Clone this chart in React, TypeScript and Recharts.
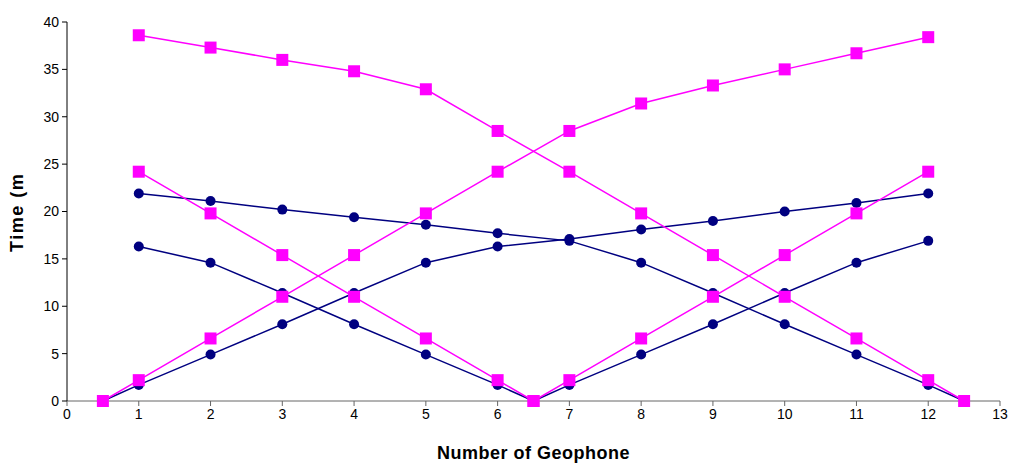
import React from "react";
import { LineChart, Line, XAxis, YAxis, Label } from "recharts";

const xTicks = [0, 1, 2, 3, 4, 5, 6, 7, 8, 9, 10, 11, 12, 13];
const yTicks = [0, 5, 10, 15, 20, 25, 30, 35, 40];

const geophones = [1, 2, 3, 4, 5, 6, 7, 8, 9, 10, 11, 12];

// Magenta series (squares)
const magentaUpX = [0.5, ...geophones];
const magentaUpY = [0, 2.2, 6.6, 11.0, 15.4, 19.8, 24.2, 28.5, 31.4, 33.3, 35.0, 36.7, 38.4];
const magentaDownX = [...geophones, 12.5];
const magentaDownY = [38.6, 37.3, 36.0, 34.8, 32.9, 28.5, 24.2, 19.8, 15.4, 11.0, 6.6, 2.2, 0];
const magentaLeftX = [1, 2, 3, 4, 5, 6, 6.5];
const magentaLeftY = [24.2, 19.8, 15.4, 11.0, 6.6, 2.2, 0];
const magentaRightX = [6.5, 7, 8, 9, 10, 11, 12];
const magentaRightY = [0, 2.2, 6.6, 11.0, 15.4, 19.8, 24.2];

// Navy series (circles)
const navyUpX = [0.5, ...geophones];
const navyUpY = [0, 1.7, 4.9, 8.1, 11.4, 14.6, 16.3, 17.1, 18.1, 19.0, 20.0, 20.9, 21.9];
const navyDownX = [...geophones, 12.5];
const navyDownY = [21.9, 21.1, 20.2, 19.4, 18.6, 17.7, 16.9, 14.6, 11.4, 8.1, 4.9, 1.7, 0];
const navyLeftX = [1, 2, 3, 4, 5, 6, 6.5];
const navyLeftY = [16.3, 14.6, 11.4, 8.1, 4.9, 1.7, 0];
const navyRightX = [6.5, 7, 8, 9, 10, 11, 12];
const navyRightY = [0, 1.7, 4.9, 8.1, 11.4, 14.6, 16.9];

const zip = (xs: number[], ys: number[]) => xs.map((x, i) => ({ x, y: ys[i] }));

const navySeries = [
  zip(navyUpX, navyUpY),
  zip(navyDownX, navyDownY),
  zip(navyLeftX, navyLeftY),
  zip(navyRightX, navyRightY),
];
const magentaSeries = [
  zip(magentaUpX, magentaUpY),
  zip(magentaDownX, magentaDownY),
  zip(magentaLeftX, magentaLeftY),
  zip(magentaRightX, magentaRightY),
];

const NAVY = "#000080";
const MAGENTA = "#FF00FF";
const FONT = "Liberation Sans, Arial, sans-serif";

const SquareDot = (props: any) => {
  const { cx, cy } = props;
  if (cx == null || cy == null) return null;
  return <rect x={cx - 6} y={cy - 6} width={12} height={12} fill={MAGENTA} />;
};

const CircleDot = (props: any) => {
  const { cx, cy } = props;
  if (cx == null || cy == null) return null;
  return <circle cx={cx} cy={cy} r={5} fill={NAVY} />;
};

const YLabel = () => (
  <g>
    <defs>
      <clipPath id="ylabclip">
        <rect x={0} y={174} width={60} height={120} />
      </clipPath>
    </defs>
    <g clipPath="url(#ylabclip)">
      <text
        x={0}
        y={0}
        transform="translate(23, 252) rotate(-90)"
        textAnchor="start"
        fontFamily={FONT}
        fontWeight="bold"
        fontSize={18}
        letterSpacing={1.5}
        fill="#000"
      >
        Time (ms)
      </text>
    </g>
  </g>
);

export default function App() {
  return (
    <div style={{ position: "absolute", left: 0, top: 0, background: "#fff" }}>
      <LineChart width={1013} height={463} margin={{ top: 22, right: 13, left: 0, bottom: 0 }}>
        <XAxis
          type="number"
          dataKey="x"
          domain={[0, 13]}
          ticks={xTicks}
          allowDuplicatedCategory={false}
          height={62}
          stroke="#666"
          tickSize={5}
          tick={{ fill: "#000", fontSize: 14, fontFamily: FONT }}
          tickMargin={3}
        >
          <Label
            value="Number of Geophone"
            position="insideBottom"
            offset={4}
            style={{ fontWeight: "bold", fontSize: 18, fontFamily: FONT, fill: "#000", letterSpacing: 0.5 }}
          />
        </XAxis>
        <YAxis
          type="number"
          dataKey="y"
          domain={[0, 40]}
          ticks={yTicks}
          width={67}
          stroke="#000"
          tickSize={5}
          tick={{ fill: "#000", fontSize: 14, fontFamily: FONT }}
          tickMargin={3}
          label={{ content: () => <YLabel /> }}
        />
        {navySeries.map((d, i) => (
          <Line
            key={"n" + i}
            data={d}
            dataKey="y"
            stroke={NAVY}
            strokeWidth={1.5}
            dot={<CircleDot />}
            activeDot={false}
            isAnimationActive={false}
          />
        ))}
        {magentaSeries.map((d, i) => (
          <Line
            key={"m" + i}
            data={d}
            dataKey="y"
            stroke={MAGENTA}
            strokeWidth={1.5}
            dot={<SquareDot />}
            activeDot={false}
            isAnimationActive={false}
          />
        ))}
      </LineChart>
    </div>
  );
}
